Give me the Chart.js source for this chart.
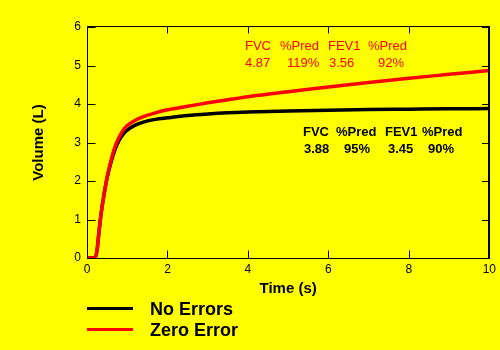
<!DOCTYPE html>
<html>
<head>
<meta charset="utf-8">
<title>Volume-time curves</title>
<script src="https://cdn.jsdelivr.net/npm/chart.js@4/dist/chart.umd.min.js"></script>
<style>
  html, body { margin: 0; padding: 0; background: #ffff00; }
  #wrap { width: 500px; height: 350px; }
  canvas { display: block; }
</style>
</head>
<body>
<div id="wrap"><canvas id="chart" width="500" height="350"></canvas></div>
<script>
// Sample times (s) of the two volume-time curves
const timeSec = [0, 0.2, 0.25, 0.3, 0.35, 0.4, 0.5, 0.6, 0.7, 0.8, 0.9, 1.0, 1.2, 1.4, 1.7, 2.0, 2.5, 3.0, 3.5, 4.0, 5.0, 6.0, 7.0, 8.0, 9.0, 10.0];

// Exhaled volume (L), clean manoeuvre
const noErrors = [0, 0, 0.2, 0.7, 1.15, 1.5, 2.08, 2.5, 2.83, 3.06, 3.22, 3.32, 3.45, 3.53, 3.60, 3.64, 3.70, 3.74, 3.77, 3.79, 3.82, 3.84, 3.855, 3.865, 3.875, 3.88];

// Exhaled volume (L), with a zero-offset error (keeps drifting upward)
const zeroError = [0, 0, 0.2, 0.7, 1.15, 1.5, 2.1, 2.55, 2.9, 3.14, 3.32, 3.44, 3.58, 3.67, 3.77, 3.85, 3.94, 4.03, 4.11, 4.19, 4.32, 4.44, 4.56, 4.67, 4.77, 4.87];

const seriesNames = ['No Errors', 'Zero Error'];
const seriesColors = ['#000000', '#ff0000'];

const xTicks = [0, 2, 4, 6, 8, 10];
const yTicks = [0, 1, 2, 3, 4, 5, 6];

// Spirometry summaries printed beside each curve (FVC is the curve's last volume)
const statHeaders = ['FVC', '%Pred', 'FEV1', '%Pred'];
const zeroErrorStats = [zeroError[zeroError.length - 1].toFixed(2), '119%', '3.56', '92%'];
const noErrorsStats = [noErrors[noErrors.length - 1].toFixed(2), '95%', '3.45', '90%'];

const toPoints = vals => timeSec.map((t, i) => ({ x: t, y: vals[i] }));

const bgPlugin = {
  id: 'bg',
  beforeDraw(chart) {
    const ctx = chart.ctx;
    ctx.save();
    ctx.fillStyle = '#ffff00';
    ctx.fillRect(0, 0, chart.width, chart.height);
    ctx.restore();
  }
};

// Box frame with inward-pointing tick marks on all four sides
const framePlugin = {
  id: 'frame',
  afterDatasetsDraw(chart) {
    const { ctx, chartArea: a, scales: { x, y } } = chart;
    const L = Math.round(a.left) + 0.5, R = Math.round(a.right);
    const T = Math.round(a.top) - 0.5, B = Math.round(a.bottom) + 0.5;
    ctx.save();
    ctx.strokeStyle = '#000';
    ctx.lineWidth = 1;
    ctx.beginPath();
    ctx.moveTo(L, T); ctx.lineTo(R, T);
    ctx.moveTo(L, T); ctx.lineTo(L, B);
    ctx.moveTo(L, B); ctx.lineTo(R, B);
    ctx.stroke();
    ctx.lineWidth = 2;
    ctx.beginPath();
    ctx.moveTo(R, T - 0.5); ctx.lineTo(R, B + 0.5);
    ctx.stroke();
    ctx.lineWidth = 1;
    ctx.beginPath();
    yTicks.forEach(v => {
      const py = Math.round(y.getPixelForValue(v)) + 0.5;
      ctx.moveTo(L, py); ctx.lineTo(L + 8, py);
      ctx.moveTo(R, py); ctx.lineTo(R - 7, py);
    });
    xTicks.forEach(v => {
      const px = Math.round(x.getPixelForValue(v)) + 0.5;
      ctx.moveTo(px, B); ctx.lineTo(px, B - 8);
      ctx.moveTo(px, T); ctx.lineTo(px, T + 7);
    });
    ctx.stroke();
    ctx.restore();
  }
};

// Axis titles, curve summaries and the legend underneath
const textPlugin = {
  id: 'texts',
  afterDraw(chart) {
    const { ctx, chartArea: a } = chart;
    ctx.save();
    ctx.textBaseline = 'middle';

    ctx.fillStyle = '#000';
    ctx.font = 'bold 15px "Liberation Sans", Arial, sans-serif';
    ctx.textAlign = 'center';
    ctx.fillText('Time (s)', (a.left + a.right) / 2, 289);
    ctx.save();
    ctx.translate(39, (a.top + a.bottom) / 2);
    ctx.rotate(-Math.PI / 2);
    ctx.fillText('Volume (L)', 0, 0);
    ctx.restore();

    ctx.textAlign = 'left';
    ctx.fillStyle = seriesColors[1];
    ctx.font = '13px "Liberation Sans", Arial, sans-serif';
    const redHeadX = [245, 280, 328, 368];
    const redValX = [245, 287, 329, 378];
    statHeaders.forEach((s, i) => ctx.fillText(s, redHeadX[i], 46));
    zeroErrorStats.forEach((s, i) => ctx.fillText(s, redValX[i], 63));

    ctx.fillStyle = seriesColors[0];
    ctx.font = 'bold 13px "Liberation Sans", Arial, sans-serif';
    const blkHeadX = [303, 336, 385, 422];
    const blkValX = [304, 344, 388, 428];
    statHeaders.forEach((s, i) => ctx.fillText(s, blkHeadX[i], 132));
    noErrorsStats.forEach((s, i) => ctx.fillText(s, blkValX[i], 149));

    ctx.font = 'bold 18px "Liberation Sans", Arial, sans-serif';
    const rowY = [309, 330];
    chart.data.datasets.forEach((ds, i) => {
      ctx.strokeStyle = ds.borderColor;
      ctx.lineWidth = 3;
      ctx.beginPath();
      ctx.moveTo(87, rowY[i] - 0.5);
      ctx.lineTo(133, rowY[i] - 0.5);
      ctx.stroke();
      ctx.fillStyle = '#000';
      ctx.fillText(ds.label, 150, rowY[i] + 1);
    });
    ctx.restore();
  }
};

const tickFont = { family: '"Liberation Sans", Arial, sans-serif', size: 12 };

new Chart(document.getElementById('chart'), {
  type: 'line',
  data: {
    datasets: [
      { label: seriesNames[0], data: toPoints(noErrors), borderColor: seriesColors[0], borderWidth: 3.5, order: 1 },
      { label: seriesNames[1], data: toPoints(zeroError), borderColor: seriesColors[1], borderWidth: 3.5, order: 0 }
    ]
  },
  options: {
    responsive: false,
    animation: false,
    devicePixelRatio: 1,
    layout: { padding: { top: 27, right: 9, bottom: 0, left: 0 } },
    elements: {
      point: { radius: 0, hoverRadius: 0 },
      line: { cubicInterpolationMode: 'monotone', fill: false, borderCapStyle: 'butt' }
    },
    plugins: { legend: { display: false }, tooltip: { enabled: false } },
    scales: {
      x: {
        type: 'linear', min: 0, max: 10,
        grid: { display: false, drawTicks: false },
        border: { display: false },
        afterBuildTicks: s => { s.ticks = xTicks.map(v => ({ value: v })); },
        afterFit: s => { s.height = 92; },
        ticks: { color: '#000', font: tickFont, padding: 4, maxRotation: 0 }
      },
      y: {
        type: 'linear', min: 0, max: 6,
        grid: { display: false, drawTicks: false },
        border: { display: false },
        afterBuildTicks: s => { s.ticks = yTicks.map(v => ({ value: v })); },
        afterFit: s => { s.width = 87; },
        ticks: { color: '#000', font: tickFont, padding: 6 }
      }
    }
  },
  plugins: [bgPlugin, framePlugin, textPlugin]
});
</script>
</body>
</html>
